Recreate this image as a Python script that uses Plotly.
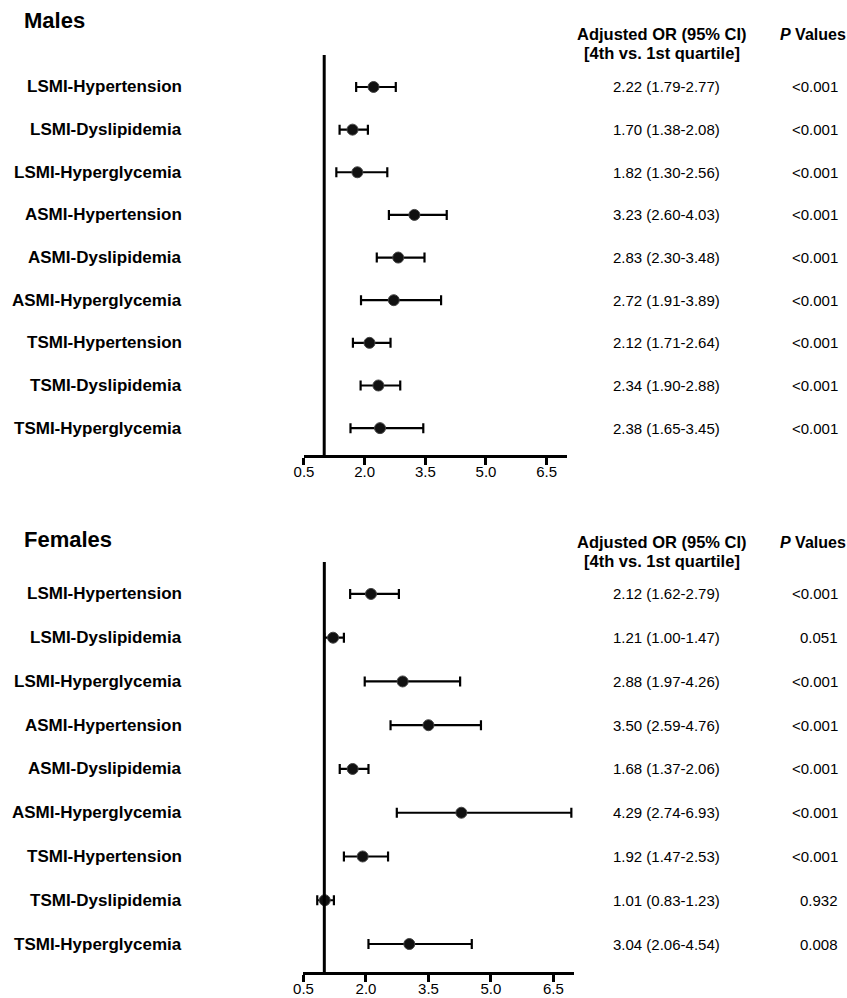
import plotly.graph_objects as go

W, H = 847, 998

categories = ["LSMI-Hypertension", "LSMI-Dyslipidemia", "LSMI-Hyperglycemia",
              "ASMI-Hypertension", "ASMI-Dyslipidemia", "ASMI-Hyperglycemia",
              "TSMI-Hypertension", "TSMI-Dyslipidemia", "TSMI-Hyperglycemia"]

male_or = [2.22, 1.70, 1.82, 3.23, 2.83, 2.72, 2.12, 2.34, 2.38]
male_lo = [1.79, 1.38, 1.30, 2.60, 2.30, 1.91, 1.71, 1.90, 1.65]
male_hi = [2.77, 2.08, 2.56, 4.03, 3.48, 3.89, 2.64, 2.88, 3.45]
male_p = ["<0.001"] * 9

female_or = [2.12, 1.21, 2.88, 3.50, 1.68, 4.29, 1.92, 1.01, 3.04]
female_lo = [1.62, 1.00, 1.97, 2.59, 1.37, 2.74, 1.47, 0.83, 2.06]
female_hi = [2.79, 1.47, 4.26, 4.76, 2.06, 6.93, 2.53, 1.23, 4.54]
female_p = ["<0.001", "0.051", "<0.001", "<0.001", "<0.001", "<0.001", "<0.001", "0.932", "0.008"]

tick_vals = [0.5, 2.0, 3.5, 5.0, 6.5]
tick_text = ["0.5", "2.0", "3.5", "5.0", "6.5"]

FONT = "Liberation Sans, Arial, Helvetica, sans-serif"


def px(p):
    return p / W


def py(p):
    return 1 - p / H


fig = go.Figure()

panels = [
    dict(name="Males", orv=male_or, lo=male_lo, hi=male_hi, p=male_p,
         xdom=(297.5, 563.5), ytop=55, ybot=455, yrange=[8.63, -0.75],
         title_y=20, h1=34, h2=53, xa="x", ya="y"),
    dict(name="Females", orv=female_or, lo=female_lo, hi=female_hi, p=female_p,
         xdom=(297, 571), ytop=562, ybot=972, yrange=[8.64, -0.73],
         title_y=539, h1=542, h2=561, xa="x2", ya="y2"),
]

annotations = []
shapes = []
for i, pnl in enumerate(panels):
    rows = list(range(len(categories)))
    fig.add_trace(go.Scatter(
        x=pnl["orv"], y=rows, mode="markers",
        marker=dict(color="#111", size=11, line=dict(color="#444", width=1)),
        error_x=dict(type="data", symmetric=False,
                     array=[h - o for h, o in zip(pnl["hi"], pnl["orv"])],
                     arrayminus=[o - l for o, l in zip(pnl["orv"], pnl["lo"])],
                     color="black", thickness=2.2, width=5),
        xaxis=pnl["xa"], yaxis=pnl["ya"], showlegend=False, hoverinfo="skip"))

    suffix = "" if i == 0 else "2"
    fig.update_layout(**{
        "xaxis" + suffix: dict(domain=[px(pnl["xdom"][0]), px(pnl["xdom"][1])],
                               range=[0.5, 7.0], showgrid=False, zeroline=False,
                               showline=True, linecolor="black", linewidth=2.5,
                               ticks="outside", ticklen=7, tickwidth=2.5, tickcolor="black",
                               tickvals=tick_vals, ticktext=tick_text, ticklabelstandoff=-6,
                               tickfont=dict(family=FONT, size=15, color="black"),
                               anchor=pnl["ya"]),
        "yaxis" + suffix: dict(domain=[py(pnl["ybot"]), py(pnl["ytop"])],
                               range=pnl["yrange"], visible=False, anchor=pnl["xa"]),
    })

    shapes.append(dict(type="line", xref=pnl["xa"], yref=pnl["ya"] + " domain",
                       x0=1, x1=1, y0=0, y1=1, line=dict(color="black", width=3)))

    annotations.append(dict(text="<b>" + pnl["name"] + "</b>", xref="paper", yref="paper",
                            x=px(12), y=py(pnl["title_y"]), xanchor="left", yanchor="middle",
                            showarrow=False, font=dict(family=FONT, size=22, color="black")))
    annotations.append(dict(text="<b>Adjusted OR (95% CI)</b>", xref="paper", yref="paper",
                            x=px(660), y=py(pnl["h1"]), xanchor="center", yanchor="middle",
                            showarrow=False, font=dict(family=FONT, size=16.5, color="black")))
    annotations.append(dict(text="<b>[4th vs. 1st quartile]</b>", xref="paper", yref="paper",
                            x=px(660), y=py(pnl["h2"]), xanchor="center", yanchor="middle",
                            showarrow=False, font=dict(family=FONT, size=16.5, color="black")))
    annotations.append(dict(text="<b><i>P</i> Values</b>", xref="paper", yref="paper",
                            x=px(848), y=py(pnl["h1"]), xanchor="right", yanchor="middle",
                            showarrow=False, font=dict(family=FONT, size=16, color="black")))

    for r, cat in enumerate(categories):
        annotations.append(dict(text="<b>" + cat + "</b>", xref="paper", yref=pnl["ya"],
                                x=px(176), y=r, xanchor="right", yanchor="middle",
                                showarrow=False, font=dict(family=FONT, size=17, color="black")))
        annotations.append(dict(text=f"{pnl['orv'][r]:.2f} ({pnl['lo'][r]:.2f}-{pnl['hi'][r]:.2f})",
                                xref="paper", yref=pnl["ya"],
                                x=px(664), y=r, xanchor="center", yanchor="middle",
                                showarrow=False, font=dict(family=FONT, size=15, color="black")))
        annotations.append(dict(text=pnl["p"][r], xref="paper", yref=pnl["ya"],
                                x=px(840), y=r, xanchor="right", yanchor="middle",
                                showarrow=False, font=dict(family=FONT, size=15, color="black")))

fig.update_layout(width=W, height=H, margin=dict(l=0, r=0, t=0, b=0),
                  paper_bgcolor="white", plot_bgcolor="white",
                  annotations=annotations, shapes=shapes,
                  font=dict(family=FONT, color="black"))

fig.write_html("out.html", config={"displayModeBar": False},
               post_script="document.body.style.margin='0';document.body.style.overflow='hidden';")
